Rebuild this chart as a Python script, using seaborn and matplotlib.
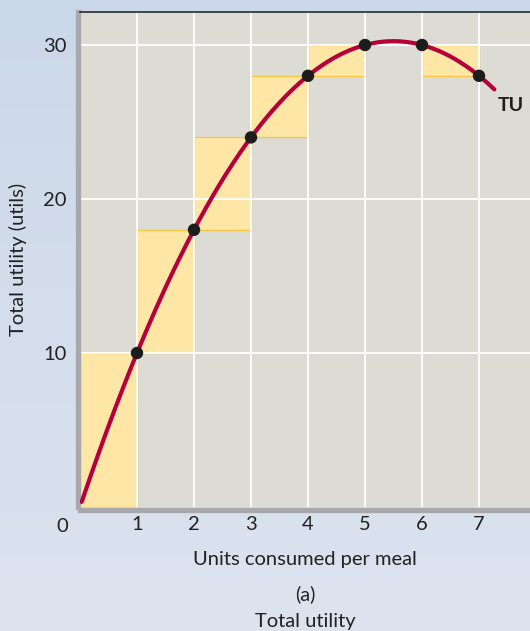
import numpy as np
import pandas as pd
import matplotlib.pyplot as plt
import seaborn as sns

units = [0, 1, 2, 3, 4, 5, 6, 7]
total_utility = [0, 10, 18, 24, 28, 30, 30, 28]
x_ticks = [1, 2, 3, 4, 5, 6, 7]
y_ticks = [10, 20, 30]

sns.set_theme(style="white")
plt.rcParams["font.family"] = ["Lato", "DejaVu Sans"]

W, H = 530, 631
FS = 14.5
fig = plt.figure(figsize=(W / 100, H / 100), dpi=100)

# background gradient
bg = fig.add_axes([0, 0, 1, 1], zorder=-10)
grad = np.linspace(0, 1, 256).reshape(-1, 1)
top_c = np.array([0.796, 0.847, 0.914])
bot_c = np.array([0.867, 0.890, 0.937])
img = top_c + (bot_c - top_c) * grad[:, :, None]
bg.imshow(img, aspect="auto", extent=[0, 1, 0, 1])
bg.axis("off")

ax = fig.add_axes([80 / W, 124 / H, 450 / W, 495 / H])
ax.set_facecolor("#dcdbd4")

# yellow step bars between successive points
for i in range(1, len(units)):
    lo = min(total_utility[i - 1], total_utility[i])
    hi = max(total_utility[i - 1], total_utility[i])
    if hi - lo == 0:
        continue
    ax.bar(units[i - 1], hi - lo, bottom=lo, width=1, align="edge",
           color="#fee6a6", edgecolor="#f7c642", linewidth=0.9, zorder=1)

# white grid on top of bars
for xv in x_ticks:
    ax.axvline(xv, color="white", lw=1.3, zorder=2)
for yv in y_ticks:
    ax.axhline(yv, color="white", lw=1.3, zorder=2)

# smooth TU curve from a quadratic fit of the points
coef = np.polyfit(units, total_utility, 2)
xs = np.linspace(0.03, 7.27, 300)
curve = pd.DataFrame({"x": xs, "y": np.polyval(coef, xs)})
sns.lineplot(data=curve, x="x", y="y", ax=ax, color="#b5003c", lw=3.0,
             zorder=3, sort=False)

pts = pd.DataFrame({"u": units[1:], "tu": total_utility[1:]})
sns.scatterplot(data=pts, x="u", y="tu", ax=ax, color="#1c1c1c", s=80,
                edgecolor="none", zorder=4)

ax.text(7.56, 26.1, "TU", fontsize=14, fontweight="bold", color="#1e1e1e",
        ha="center", va="center")

ax.set_xlim(0, 450 / 57)
ax.set_ylim(0, 495 / 15.4)
ax.set_xticks(x_ticks)
ax.set_yticks(y_ticks)
ax.set_xticklabels([str(v) for v in x_ticks])
ax.set_yticklabels([str(v) for v in y_ticks])
ax.tick_params(axis="both", length=0, labelsize=FS, labelcolor="#222222")
ax.tick_params(axis="x", pad=5)
ax.tick_params(axis="y", pad=8)
ax.set_xlabel("")
ax.set_ylabel("")

for side in ["left", "bottom"]:
    ax.spines[side].set_color("#a7a8ab")
    ax.spines[side].set_linewidth(3.8)
    ax.spines[side].set_position(("outward", 1.8))
ax.spines["top"].set_color("#2a2a35")
ax.spines["top"].set_linewidth(1.2)
ax.spines["right"].set_visible(False)

fig.text(62 / W, 1 - 526 / H, "0", fontsize=FS, color="#222222",
         ha="center", va="center")
fig.text(18 / W, 1 - 259 / H, "Total utility (utils)", fontsize=FS,
         color="#222222", rotation=90, ha="center", va="center")
fig.text(305 / W, 1 - 560 / H, "Units consumed per meal", fontsize=FS,
         color="#222222", ha="center", va="center")
fig.text(305 / W, 1 - 594 / H, "(a)", fontsize=FS, color="#222222",
         ha="center", va="center")
fig.text(305 / W, 1 - 621 / H, "Total utility", fontsize=FS,
         color="#222222", ha="center", va="center")

fig.savefig("out.png", dpi=100)
